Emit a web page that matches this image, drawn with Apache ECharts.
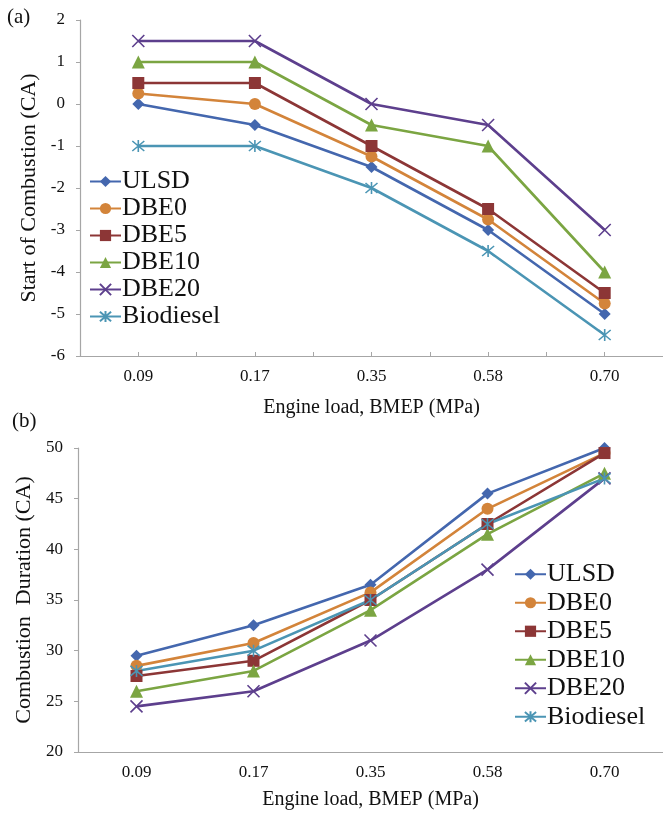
<!DOCTYPE html>
<html>
<head>
<meta charset="utf-8">
<script src="https://cdn.jsdelivr.net/npm/echarts@6/dist/echarts.min.js"></script>
<style>
html,body{margin:0;padding:0;background:#fff;}
#chart{width:663px;height:815px;}
</style>
</head>
<body>
<div id="chart"></div>
<script>
const categories = ['0.09', '0.17', '0.35', '0.58', '0.70'];
const seriesNames = ['ULSD', 'DBE0', 'DBE5', 'DBE10', 'DBE20', 'Biodiesel'];

// Panel (a): Start of Combustion (CA)
const socULSD = [0, -0.5, -1.5, -3, -5];
const socDBE0 = [0.25, 0, -1.25, -2.75, -4.75];
const socDBE5 = [0.5, 0.5, -1, -2.5, -4.5];
const socDBE10 = [1, 1, -0.5, -1, -4];
const socDBE20 = [1.5, 1.5, 0, -0.5, -3];
const socBiodiesel = [-1, -1, -2, -3.5, -5.5];

// Panel (b): Combustion Duration (CA)
const cdULSD = [29.5, 32.5, 36.5, 45.5, 50];
const cdDBE0 = [28.5, 30.75, 35.75, 44, 49.5];
const cdDBE5 = [27.5, 29, 35, 42.5, 49.5];
const cdDBE10 = [26, 28, 34, 41.5, 47.5];
const cdDBE20 = [24.5, 26, 31, 38, 47];
const cdBiodiesel = [28, 30, 35, 42.5, 47];

const socData = [socULSD, socDBE0, socDBE5, socDBE10, socDBE20, socBiodiesel];
const cdData = [cdULSD, cdDBE0, cdDBE5, cdDBE10, cdDBE20, cdBiodiesel];

const colors = ['#4467AE', '#D3843A', '#8C3636', '#7BA542', '#5D3F8D', '#4B95B4'];
const XPATH = 'path://M0,0L10,10M10,0L0,10';
const STARPATH = 'path://M0,0L10,10M10,0L0,10M5,-1L5,11';
const symbols = ['diamond', 'circle', 'rect', 'triangle', XPATH, STARPATH];
const symbolSizes = [12, 12, 12, 13, 12, 12];

const FONT = '"Liberation Serif", "Times New Roman", serif';
const axisGray = '#A6A6A6';

function makeSeries(dataSets, gridIdx) {
  return dataSets.map((d, i) => {
    const isStroke = i >= 4;
    return {
      name: seriesNames[i],
      type: 'line',
      xAxisIndex: gridIdx * 2,
      yAxisIndex: gridIdx,
      data: d,
      symbol: symbols[i],
      symbolSize: symbolSizes[i],
      showAllSymbol: true,
      lineStyle: { color: colors[i], width: 2.6 },
      itemStyle: {
        color: isStroke ? 'rgba(0,0,0,0)' : colors[i],
        borderColor: colors[i],
        borderWidth: isStroke ? 1.6 : 0
      },
      emphasis: { disabled: true },
      animation: false,
      z: 3
    };
  });
}

function xAxes(gridIdx, name, nameGap, showTicks) {
  return [
    {
      gridIndex: gridIdx,
      type: 'category',
      data: categories,
      boundaryGap: true,
      position: 'bottom',
      axisLine: { show: true, onZero: false, lineStyle: { color: axisGray, width: 1.2 } },
      axisTick: { show: showTicks, inside: true, length: 4, lineStyle: { color: axisGray } },
      axisLabel: { color: '#111', fontFamily: FONT, fontSize: 17, margin: 12 },
      name: name,
      nameLocation: 'middle',
      nameGap: nameGap,
      nameTextStyle: { color: '#111', fontFamily: FONT, fontSize: 20 }
    },
    {
      gridIndex: gridIdx,
      type: 'category',
      data: categories,
      boundaryGap: true,
      position: 'bottom',
      axisLine: { show: false, onZero: false },
      axisTick: { show: showTicks, inside: true, alignWithLabel: true, length: 4, lineStyle: { color: axisGray } },
      axisLabel: { show: false }
    }
  ];
}

function yAxis(gridIdx, min, max, interval, name, nameGap) {
  return {
    gridIndex: gridIdx,
    type: 'value',
    min: min, max: max, interval: interval,
    axisLine: { show: true, onZero: false, lineStyle: { color: axisGray, width: 1.2 } },
    axisTick: { show: true, length: 4, lineStyle: { color: axisGray } },
    splitLine: { show: false },
    axisLabel: { color: '#111', fontFamily: FONT, fontSize: 17, margin: 15 },
    name: name,
    nameLocation: 'middle',
    nameGap: nameGap,
    nameTextStyle: { color: '#111', fontFamily: FONT, fontSize: 22 }
  };
}

function legend(left, top, lh) {
  return {
    data: seriesNames,
    orient: 'vertical',
    left: left,
    top: top,
    itemWidth: 31,
    itemHeight: 14,
    itemGap: 0,
    padding: 0,
    textStyle: { color: '#111', fontFamily: FONT, fontSize: 26, lineHeight: lh, padding: [0, 0, 0, -4] },
    selectedMode: false
  };
}

const chart = echarts.init(document.getElementById('chart'), null, { renderer: 'canvas' });
chart.setOption({
  backgroundColor: '#fff',
  animation: false,
  grid: [
    { left: 80, top: 20, width: 587, height: 336 },
    { left: 78, top: 448, width: 585, height: 304 }
  ],
  xAxis: [
    ...xAxes(0, 'Engine load, BMEP (MPa)', 42, true),
    ...xAxes(1, 'Engine load, BMEP (MPa)', 38, false)
  ],
  yAxis: [
    yAxis(0, -6, 2, 1, 'Start of Combustion (CA)', 35),
    yAxis(1, 20, 50, 5, 'Combustion  Duration (CA)', 38)
  ],
  legend: [
    legend(89, 168, 27),
    legend(514, 560, 28.5)
  ],
  series: [
    ...makeSeries(socData, 0),
    ...makeSeries(cdData, 1)
  ],
  graphic: [
    { type: 'text', left: 7, top: 7, style: { text: '(a)', fontFamily: FONT, fontSize: 21, fill: '#111' } },
    { type: 'text', left: 12, top: 411, style: { text: '(b)', fontFamily: FONT, fontSize: 21, fill: '#111' } }
  ]
});
</script>
</body>
</html>
